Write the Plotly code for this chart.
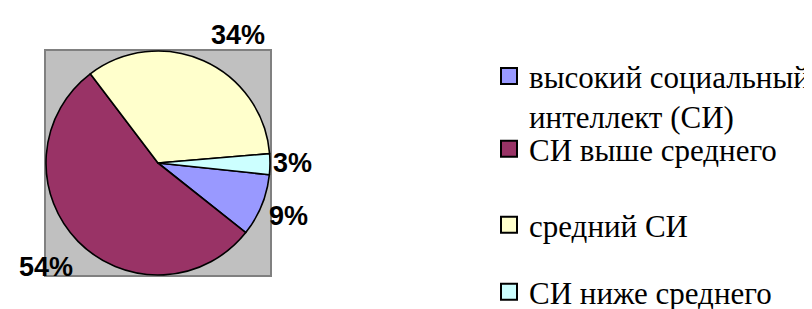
import plotly.graph_objects as go

W, H = 812, 309

labels = ["высокий социальный<br>интеллект (СИ)", "СИ выше среднего", "средний СИ", "СИ ниже среднего"]
values = [9, 54, 34, 3]
colors = ["#9999FF", "#993366", "#FFFFCC", "#CCFFFF"]

def px(x):
    return x / W

def py(y):
    return 1 - y / H

sq = dict(x0=38, x1=262, y0=43, y1=267)
SERIF = "Liberation Serif"

fig = go.Figure()

fig.add_trace(go.Pie(
    values=values, labels=labels, sort=False, direction="clockwise", rotation=96,
    marker=dict(colors=colors, line=dict(color="black", width=1.6)),
    textinfo="none", hoverinfo="label+percent", showlegend=False,
    domain=dict(x=[px(sq["x0"]), px(sq["x1"])], y=[py(sq["y1"]), py(sq["y0"])]),
))

legend_ids = ["legend", "legend2", "legend3", "legend4"]
for lab, col, lid in zip(labels, colors, legend_ids):
    fig.add_trace(go.Scatter(
        x=[None], y=[None], mode="markers", name=lab, legend=lid,
        marker=dict(symbol="square", size=16, color=col, line=dict(color="black", width=2)),
    ))

total = sum(values)
label_pos = [(280, 208), (38, 259), (230, 27), (284, 155)]
for v, (lx, ly) in zip(values, label_pos):
    fig.add_annotation(
        x=px(lx), y=py(ly), xref="paper", yref="paper", showarrow=False,
        text=f"{round(v / total * 100)}%", xanchor="center", yanchor="middle",
        font=dict(family="Liberation Sans", size=27, color="black", weight="bold"),
    )

legfont = dict(family=SERIF, size=31, color="black")
lx = px(481)
fig.update_layout(
    width=W, height=H,
    font=dict(family=SERIF, size=31, color="black"),
    margin=dict(l=0, r=0, t=0, b=0, autoexpand=False),
    paper_bgcolor="white", plot_bgcolor="#C0C0C0",
    xaxis=dict(domain=[px(sq["x0"]), px(sq["x1"])], range=[0, 1], showgrid=False, zeroline=False,
               showticklabels=False, ticks="", showline=True, mirror=True, linecolor="#808080", linewidth=2,
               fixedrange=True),
    yaxis=dict(domain=[py(sq["y1"]), py(sq["y0"])], range=[0, 1], showgrid=False, zeroline=False,
               showticklabels=False, ticks="", showline=True, mirror=True, linecolor="#808080", linewidth=2,
               fixedrange=True),
    legend=dict(x=lx, y=py(41.4), xanchor="left", yanchor="top", font=legfont, valign="top",
                bgcolor="rgba(0,0,0,0)"),
    legend2=dict(x=lx, y=py(141), xanchor="left", yanchor="middle", font=legfont, bgcolor="rgba(0,0,0,0)"),
    legend3=dict(x=lx, y=py(217), xanchor="left", yanchor="middle", font=legfont, bgcolor="rgba(0,0,0,0)"),
    legend4=dict(x=lx, y=py(284), xanchor="left", yanchor="middle", font=legfont, bgcolor="rgba(0,0,0,0)"),
)

fig.write_html("out.html")
